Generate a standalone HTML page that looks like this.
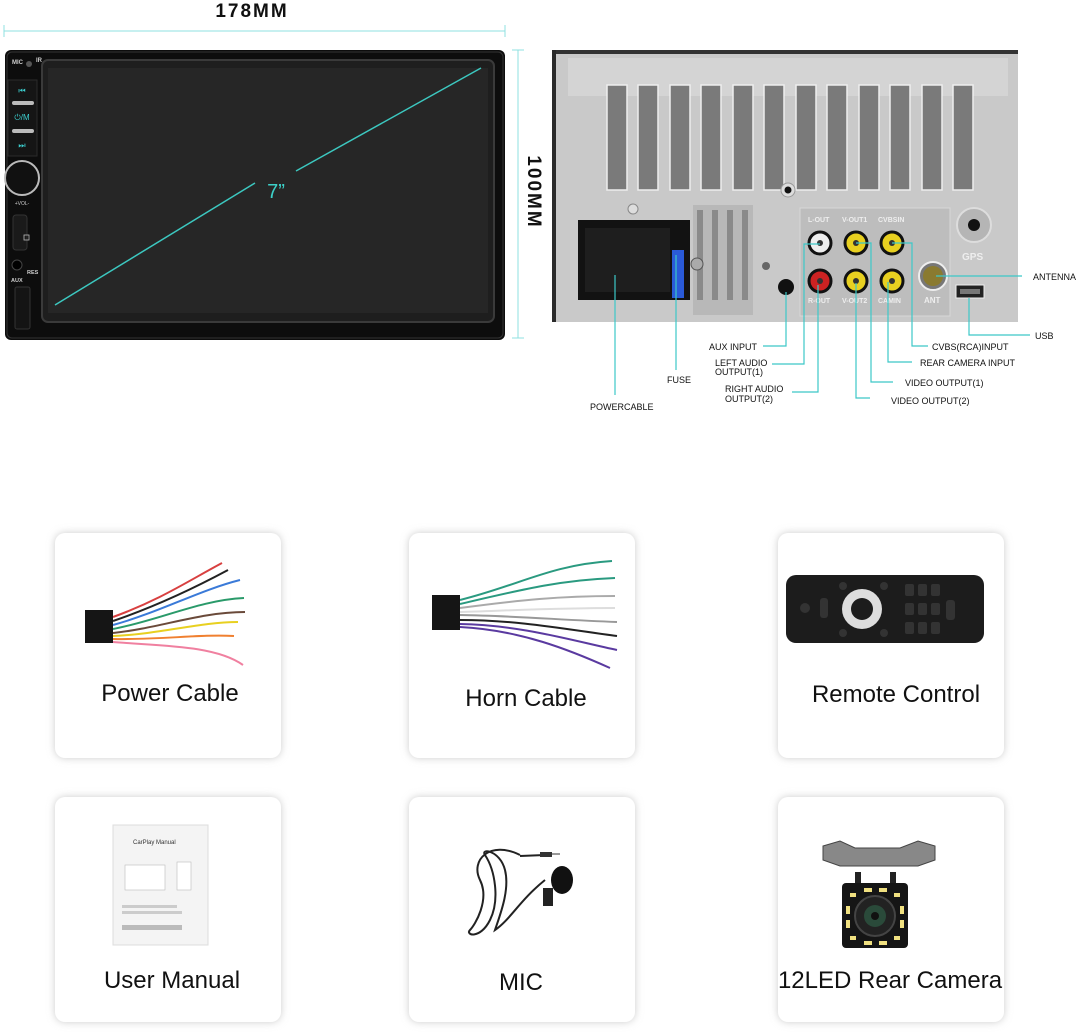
<!DOCTYPE html>
<html><head><meta charset="utf-8"><style>
html,body{margin:0;padding:0;background:#fff;width:1080px;height:1035px;overflow:hidden}
svg{display:block}
text{font-family:"Liberation Sans",Arial,sans-serif}
</style></head><body>
<svg width="1080" height="1035" viewBox="0 0 1080 1035" xmlns="http://www.w3.org/2000/svg">
<defs>
<filter id="sh" x="-10%" y="-10%" width="120%" height="120%"><feGaussianBlur stdDeviation="4"/></filter>
</defs>
<text x="252" y="17" font-size="19" font-weight="bold" text-anchor="middle" letter-spacing="2" fill="#111">178MM</text>
<line x1="4" y1="31" x2="505" y2="31" stroke="#8fe0e0" stroke-width="1"/>
<line x1="4" y1="25" x2="4" y2="37" stroke="#8fe0e0"/>
<line x1="505" y1="25" x2="505" y2="37" stroke="#8fe0e0"/>
<line x1="518" y1="50" x2="518" y2="338" stroke="#8fe0e0"/>
<line x1="512" y1="50" x2="524" y2="50" stroke="#8fe0e0"/>
<line x1="512" y1="338" x2="524" y2="338" stroke="#8fe0e0"/>
<text transform="translate(528,192) rotate(90)" font-size="19" font-weight="bold" text-anchor="middle" letter-spacing="2" fill="#111">100MM</text>

<!-- Front panel -->
<rect x="5" y="50" width="500" height="290" rx="6" fill="#0d0d0d"/>
<rect x="7" y="52" width="496" height="286" rx="5" fill="none" stroke="#333" stroke-width="1"/>
<rect x="42" y="60" width="452" height="262" rx="6" fill="#1e1e1e" stroke="#3a3a3a" stroke-width="2"/>
<rect x="48" y="68" width="440" height="245" fill="#262626"/>
<line x1="55" y1="305" x2="255" y2="183" stroke="#3cc8c0" stroke-width="1.5"/>
<line x1="296" y1="171" x2="481" y2="68" stroke="#3cc8c0" stroke-width="1.5"/>
<text x="276" y="198" font-size="20" text-anchor="middle" fill="#3cd0c8">7”</text>
<text x="12" y="64" font-size="6" font-weight="bold" fill="#ccc">MIC</text>
<text x="36" y="62" font-size="6" font-weight="bold" fill="#ccc">IR</text>
<circle cx="29" cy="64" r="3" fill="#555"/>
<rect x="8" y="80" width="29" height="76" fill="#151515" stroke="#2a2a2a"/>
<text x="22" y="93" font-size="8" text-anchor="middle" fill="#3cd0d0">⏮</text>
<rect x="12" y="101" width="22" height="4" rx="2" fill="#bbb"/>
<text x="22" y="120" font-size="8" text-anchor="middle" fill="#3cd0d0">⏻/M</text>
<rect x="12" y="129" width="22" height="4" rx="2" fill="#bbb"/>
<text x="22" y="148" font-size="8" text-anchor="middle" fill="#3cd0d0">⏭</text>
<circle cx="22" cy="178" r="17" fill="#111" stroke="#bbb" stroke-width="2"/>
<text x="22" y="205" font-size="5" text-anchor="middle" fill="#ccc">+VOL-</text>
<rect x="13" y="215" width="14" height="35" rx="3" fill="#1a1a1a" stroke="#333"/>
<rect x="24" y="235" width="5" height="5" fill="none" stroke="#bbb" stroke-width="0.8"/>
<circle cx="17" cy="265" r="5" fill="#000" stroke="#444"/>
<text x="27" y="274" font-size="5.5" font-weight="bold" fill="#ccc">RES</text>
<text x="11" y="282" font-size="5.5" font-weight="bold" fill="#ccc">AUX</text>
<rect x="15" y="287" width="15" height="42" rx="2" fill="#141414" stroke="#333"/>

<!-- Back panel -->
<rect x="552" y="50" width="466" height="272" fill="#c9c9c9"/>
<rect x="552" y="50" width="466" height="4" fill="#333"/>
<rect x="552" y="50" width="4" height="272" fill="#2a2a2a"/>
<rect x="568" y="58" width="440" height="38" fill="#d4d4d4"/>
<g fill="#7a7a7a" stroke="#eee" stroke-width="1.5">
<rect x="607" y="85" width="20" height="105"/><rect x="638" y="85" width="20" height="105"/>
<rect x="670" y="85" width="20" height="105"/><rect x="701" y="85" width="20" height="105"/>
<rect x="733" y="85" width="20" height="105"/><rect x="764" y="85" width="20" height="105"/>
<rect x="796" y="85" width="20" height="105"/><rect x="827" y="85" width="20" height="105"/>
<rect x="859" y="85" width="20" height="105"/><rect x="890" y="85" width="20" height="105"/>
<rect x="922" y="85" width="20" height="105"/><rect x="953" y="85" width="20" height="105"/>
</g>
<circle cx="788" cy="190" r="7" fill="#ddd" stroke="#999"/><circle cx="788" cy="190" r="3.5" fill="#111"/>
<rect x="693" y="205" width="60" height="110" fill="#b8b8b8"/>
<g fill="#8a8a8a"><rect x="697" y="210" width="6" height="90"/><rect x="712" y="210" width="6" height="90"/><rect x="727" y="210" width="6" height="90"/><rect x="742" y="210" width="6" height="90"/></g>
<rect x="800" y="208" width="150" height="108" fill="#bdbdbd" stroke="#d8d8d8"/>
<circle cx="633" cy="209" r="5" fill="#ddd" stroke="#888"/>
<rect x="578" y="220" width="112" height="80" fill="#121212"/>
<rect x="585" y="228" width="85" height="64" fill="#1e1e1e"/>
<rect x="672" y="250" width="12" height="48" fill="#2a5ad8"/>
<circle cx="697" cy="264" r="6" fill="#aaa" stroke="#555"/>
<circle cx="766" cy="266" r="4" fill="#666"/>
<g stroke="#111" stroke-width="3">
<circle cx="820" cy="243" r="11" fill="#eee"/>
<circle cx="856" cy="243" r="11" fill="#e8d020"/>
<circle cx="892" cy="243" r="11" fill="#e8d020"/>
<circle cx="820" cy="281" r="11" fill="#cc2222"/>
<circle cx="856" cy="281" r="11" fill="#e8d020"/>
<circle cx="892" cy="281" r="11" fill="#e8d020"/>
</g>
<g fill="#333"><circle cx="820" cy="243" r="3"/><circle cx="856" cy="243" r="3"/><circle cx="892" cy="243" r="3"/><circle cx="820" cy="281" r="3"/><circle cx="856" cy="281" r="3"/><circle cx="892" cy="281" r="3"/></g>
<text x="808" y="222" font-size="7" font-weight="bold" fill="#eee">L-OUT</text>
<text x="842" y="222" font-size="7" font-weight="bold" fill="#eee">V-OUT1</text>
<text x="878" y="222" font-size="7" font-weight="bold" fill="#eee">CVBSIN</text>
<text x="808" y="303" font-size="7" font-weight="bold" fill="#eee">R-OUT</text>
<text x="842" y="303" font-size="7" font-weight="bold" fill="#eee">V-OUT2</text>
<text x="878" y="303" font-size="7" font-weight="bold" fill="#eee">CAMIN</text>
<circle cx="786" cy="287" r="8" fill="#111"/>
<circle cx="933" cy="276" r="14" fill="#777" stroke="#eee" stroke-width="2"/>
<circle cx="933" cy="276" r="10" fill="#8a7a30"/>
<text x="924" y="303" font-size="8" font-weight="bold" fill="#eee">ANT</text>
<circle cx="974" cy="225" r="17" fill="#b5b5b5" stroke="#ddd" stroke-width="2"/>
<circle cx="974" cy="225" r="6" fill="#111"/>
<text x="962" y="260" font-size="10" font-weight="bold" fill="#eee">GPS</text>
<rect x="956" y="285" width="28" height="13" fill="#222" stroke="#eee"/>
<rect x="960" y="289" width="20" height="5" fill="#777"/>

<g stroke="#3cc8c8" stroke-width="1.2" fill="none">
<polyline points="615,275 615,395"/>
<polyline points="676,255 676,370"/>
<polyline points="763,346 786,346 786,292"/>
<polyline points="772,364 804,364 804,244 820,244"/>
<polyline points="792,392 818,392 818,285"/>
<polyline points="856,283 856,398 870,398"/>
<polyline points="856,243 871,243 871,382 893,382"/>
<polyline points="888,282 888,362 912,362"/>
<polyline points="892,243 912,243 912,346 928,346"/>
<polyline points="969,298 969,335 1030,335"/>
<polyline points="936,276 1022,276"/>
</g>
<g font-size="9" fill="#111">
<text x="590" y="410">POWERCABLE</text>
<text x="667" y="383">FUSE</text>
<text x="709" y="350">AUX INPUT</text>
<text x="715" y="366">LEFT AUDIO</text><text x="715" y="375">OUTPUT(1)</text>
<text x="725" y="392">RIGHT AUDIO</text><text x="725" y="402">OUTPUT(2)</text>
<text x="891" y="404">VIDEO OUTPUT(2)</text>
<text x="905" y="386">VIDEO OUTPUT(1)</text>
<text x="920" y="366">REAR CAMERA INPUT</text>
<text x="932" y="350">CVBS(RCA)INPUT</text>
<text x="1035" y="339">USB</text>
<text x="1033" y="280">ANTENNA</text>
</g>

<g>
<rect x="55" y="533" width="226" height="225" rx="10" fill="#ccc" filter="url(#sh)"/>
<rect x="409" y="533" width="226" height="225" rx="10" fill="#ccc" filter="url(#sh)"/>
<rect x="778" y="533" width="226" height="225" rx="10" fill="#ccc" filter="url(#sh)"/>
<rect x="55" y="797" width="226" height="225" rx="10" fill="#ccc" filter="url(#sh)"/>
<rect x="409" y="797" width="226" height="225" rx="10" fill="#ccc" filter="url(#sh)"/>
<rect x="778" y="797" width="226" height="225" rx="10" fill="#ccc" filter="url(#sh)"/>
</g>
<g fill="#fff">
<rect x="55" y="533" width="226" height="225" rx="10"/>
<rect x="409" y="533" width="226" height="225" rx="10"/>
<rect x="778" y="533" width="226" height="225" rx="10"/>
<rect x="55" y="797" width="226" height="225" rx="10"/>
<rect x="409" y="797" width="226" height="225" rx="10"/>
<rect x="778" y="797" width="226" height="225" rx="10"/>
</g>
<g font-size="24" fill="#111" text-anchor="middle">
<text x="170" y="701">Power Cable</text>
<text x="526" y="706">Horn Cable</text>
<text x="896" y="702">Remote Control</text>
<text x="172" y="988">User Manual</text>
<text x="521" y="990">MIC</text>
<text x="890" y="988">12LED Rear Camera</text>
</g>

<g fill="none" stroke-width="2">
<path d="M113,617 C160,600 190,580 222,563" stroke="#d84040"/>
<path d="M113,621 C160,605 200,585 228,570" stroke="#222"/>
<path d="M113,625 C160,612 200,590 240,580" stroke="#3a7ad8"/>
<path d="M113,629 C160,620 200,600 244,598" stroke="#2a9a6a"/>
<path d="M113,633 C160,628 200,612 245,612" stroke="#6a4a3a"/>
<path d="M113,636 C160,634 200,622 238,622" stroke="#e8d020"/>
<path d="M113,639 C160,640 200,634 234,636" stroke="#f08030"/>
<path d="M113,642 C160,646 215,645 243,665" stroke="#f080a0"/>
</g>
<rect x="85" y="610" width="28" height="33" fill="#151515"/>
<g fill="none" stroke-width="2">
<path d="M460,600 C520,585 550,565 612,561" stroke="#2a9a80"/>
<path d="M460,604 C520,590 560,580 615,578" stroke="#2a9a80"/>
<path d="M460,608 C520,600 560,596 615,596" stroke="#aaa"/>
<path d="M460,612 C520,610 560,608 615,608" stroke="#ddd"/>
<path d="M460,615 C520,616 560,620 617,622" stroke="#999"/>
<path d="M460,620 C520,620 570,630 617,636" stroke="#222"/>
<path d="M460,624 C520,625 570,640 617,650" stroke="#5a3aa0"/>
<path d="M460,627 C520,630 570,650 610,668" stroke="#5a3aa0"/>
</g>
<rect x="432" y="595" width="28" height="35" fill="#151515"/>
<rect x="786" y="575" width="198" height="68" rx="10" fill="#1c1c1c"/>
<circle cx="862" cy="609" r="20" fill="#ddd"/>
<circle cx="862" cy="609" r="11" fill="#1c1c1c"/>
<g fill="#333"><rect x="905" y="584" width="9" height="12" rx="2"/><rect x="918" y="584" width="9" height="12" rx="2"/><rect x="931" y="584" width="9" height="12" rx="2"/>
<rect x="905" y="603" width="9" height="12" rx="2"/><rect x="918" y="603" width="9" height="12" rx="2"/><rect x="931" y="603" width="9" height="12" rx="2"/>
<rect x="905" y="622" width="9" height="12" rx="2"/><rect x="918" y="622" width="9" height="12" rx="2"/><rect x="931" y="622" width="9" height="12" rx="2"/>
<rect x="946" y="600" width="9" height="20" rx="3"/><rect x="820" y="598" width="8" height="20" rx="3"/><circle cx="805" cy="608" r="5"/>
<circle cx="843" cy="586" r="4"/><circle cx="884" cy="586" r="4"/><circle cx="843" cy="633" r="4"/><circle cx="884" cy="633" r="4"/></g>
<rect x="113" y="825" width="95" height="120" fill="#f4f4f4" stroke="#ddd"/>
<text x="133" y="844" font-size="6" fill="#333">CarPlay Manual</text>
<rect x="125" y="865" width="40" height="25" fill="#fff" stroke="#bbb" stroke-width="0.6"/>
<rect x="177" y="862" width="14" height="28" fill="#fff" stroke="#bbb" stroke-width="0.6"/>
<rect x="122" y="905" width="55" height="3" fill="#ccc"/><rect x="122" y="911" width="60" height="3" fill="#ccc"/>
<rect x="122" y="925" width="60" height="5" fill="#bbb"/>
<g fill="none" stroke="#222" stroke-width="2">
<path d="M520,855 C490,840 470,860 480,880 C490,900 475,925 470,930 C465,935 480,940 490,920 C500,900 495,870 485,855 C480,848 500,850 505,870 C510,890 500,915 495,930 C510,920 520,900 545,880"/>
<path d="M520,856 L545,855"/>
</g>
<rect x="540" y="852" width="12" height="5" fill="#333"/>
<line x1="552" y1="854" x2="560" y2="854" stroke="#999" stroke-width="2"/>
<ellipse cx="562" cy="880" rx="11" ry="14" fill="#111"/>
<rect x="543" y="888" width="10" height="18" fill="#222"/>
<path d="M823,846 L840,841 L855,848 L900,848 L918,841 L935,846 L935,860 L918,866 L840,866 L823,860 Z" fill="#888" stroke="#444"/>
<rect x="842" y="883" width="66" height="65" rx="4" fill="#151515"/>
<rect x="855" y="872" width="6" height="11" fill="#222"/><rect x="890" y="872" width="6" height="11" fill="#222"/>
<circle cx="875" cy="916" r="20" fill="#222" stroke="#444" stroke-width="2"/>
<circle cx="875" cy="916" r="11" fill="#2a4a3a"/>
<circle cx="875" cy="916" r="4" fill="#111"/>
<g fill="#f0e080">
<rect x="864" y="888" width="8" height="4"/><rect x="879" y="888" width="8" height="4"/>
<rect x="864" y="941" width="8" height="4"/><rect x="879" y="941" width="8" height="4"/>
<rect x="846" y="906" width="4" height="8"/><rect x="846" y="920" width="4" height="8"/>
<rect x="900" y="906" width="4" height="8"/><rect x="900" y="920" width="4" height="8"/>
<rect x="850" y="893" width="6" height="4"/><rect x="894" y="893" width="6" height="4"/>
<rect x="850" y="936" width="6" height="4"/><rect x="894" y="936" width="6" height="4"/>
</g>
</svg>
</body></html>
